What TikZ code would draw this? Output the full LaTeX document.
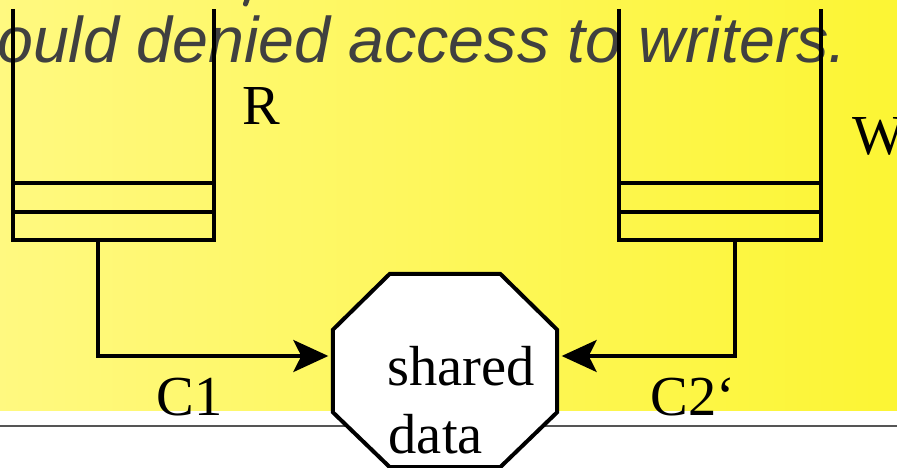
\documentclass[tikz,border=0pt]{standalone}
\usepackage{fontspec}
\setmainfont{Liberation Serif}
\newfontfamily\headfont{Liberation Sans}
\usetikzlibrary{arrows.meta,calc}
\definecolor{bgleft}{RGB}{255,249,128}
\definecolor{bgright}{RGB}{252,245,52}
\definecolor{headgray}{RGB}{64,64,64}
\definecolor{rulegray}{RGB}{85,85,85}
\tikzset{
  queuebox/.style={minimum height=231pt, inner sep=0pt, outer sep=0pt},
  qline/.style={line width=4pt, line join=miter},
  conn/.style={line width=3.5pt, -{Stealth[length=35pt,width=32pt,inset=8pt]}},
  octline/.style={line width=4pt, line join=miter, fill=white},
  lbl/.style={inner sep=0pt, anchor=base west, font=\fontsize{56.5}{68}\selectfont},
  headline/.style={inner sep=0pt, anchor=base west, text=headgray,
    font=\headfont\itshape\fontsize{64.5}{74}\selectfont},
}
\begin{document}
\begin{tikzpicture}[x=1pt,y=-1pt]
\useasboundingbox (0,0) rectangle (897,468);
% slide background with the white footer band and its rule
\shade[left color=bgleft, right color=bgright] (0,0) rectangle (897,411);
\fill[white] (0,411) rectangle (897,468);
\draw[rulegray, line width=2pt] (0,425.5) -- (897,425.5);

% heading text
\node[headline] (head) at (-3,63) {ould denied access to writers.};
\draw[headgray, line width=5pt, line cap=round] (248,-3) -- (245.5,4);

% reader queue R and writer queue W
\node[queuebox, minimum width=200.5pt] (qR) at (113.25,124.5) {};
\node[queuebox, minimum width=202pt] (qW) at (720,124.5) {};
\foreach \q in {qR,qW}{
  \draw[qline] (\q.north west) -- (\q.south west) -- (\q.south east) -- (\q.north east);
  \draw[qline] ($(\q.south west)+(0,-28)$) -- ($(\q.south east)+(0,-28)$);
  \draw[qline] ($(\q.south west)+(0,-57.5)$) -- ($(\q.south east)+(0,-57.5)$);
}

% shared data octagon
\node[minimum width=224pt, minimum height=193pt, inner sep=0pt] (shared) at (445,370.5) {};
\draw[octline]
  ($(shared.north west)+(57,0)$) -- ($(shared.north east)+(-57,0)$)
  -- ($(shared.north east)+(0,56)$) -- ($(shared.south east)+(0,-55)$)
  -- ($(shared.south east)+(-57,0)$) -- ($(shared.south west)+(57,0)$)
  -- ($(shared.south west)+(0,-55)$) -- ($(shared.north west)+(0,56)$) -- cycle;
\node[lbl] (sh1) at (387,385) {shared};
\node[lbl] (sh2) at (388.5,453) {data};

% connectors from the queues into the shared data
\coordinate (inL) at ($(shared.west)+(-4.5,-14.5)$);
\coordinate (inR) at ($(shared.east)+(4.5,-14.5)$);
\draw[conn] ($(qR.south)+(-15.5,0)$) |- (inL);
\draw[conn] ($(qW.south)+(15,0)$) |- (inR);

% labels
\node[lbl] (lR) at (242,125) {R};
\node[lbl] (lW) at (852,155) {W};
\node[lbl] (lC1) at (156.5,415) {C1};
\node[lbl] (lC2) at (650.5,415) {C2‘};
\end{tikzpicture}
\end{document}
